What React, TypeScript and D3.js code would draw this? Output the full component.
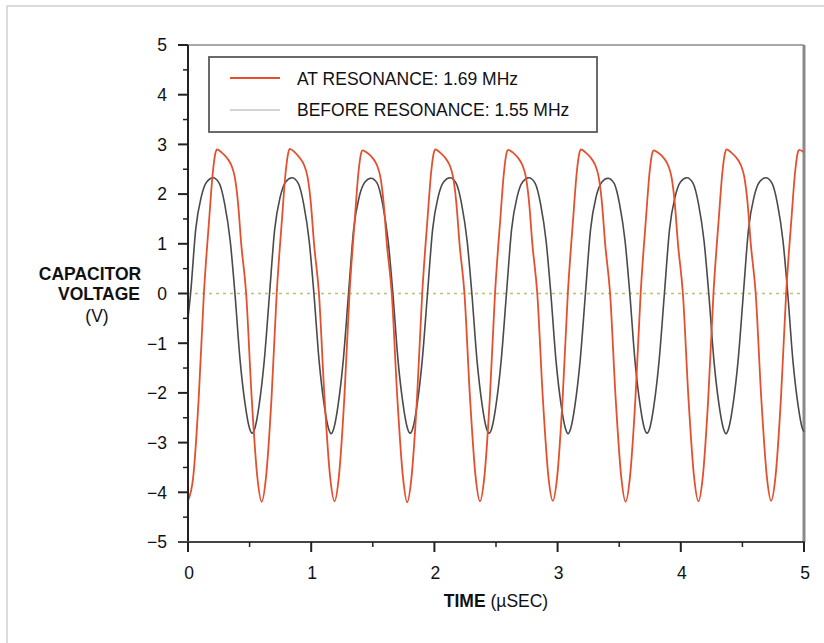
import React from "react";
import * as d3 from "d3";

// ---- data ----
const xTicks = [0, 1, 2, 3, 4, 5];
const xMinorTicks = [0.5, 1.5, 2.5, 3.5, 4.5];
const yTicks = [-5, -4, -3, -2, -1, 0, 1, 2, 3, 4, 5];
const yMinorTicks = [-4.5, -3.5, -2.5, -1.5, -0.5, 0.5, 1.5, 2.5, 3.5, 4.5];

const legendLabels = ["AT RESONANCE: 1.69 MHz", "BEFORE RESONANCE: 1.55 MHz"];

// At resonance (1.69 MHz): [time µs, volts]
const atResonance: [number, number][] = [
  [0, -4.17], [0.042, -3.70], [0.087, -2.10], [0.129, 0], [0.172, 1.50], [0.202, 2.45], [0.222, 2.82], [0.235, 2.90], [0.272, 2.84], [0.312, 2.74], [0.352, 2.58], [0.379, 2.35], [0.405, 1.85], [0.432, 1.00], [0.472, 0], [0.517, -2.10], [0.563, -3.70],
  [0.598, -4.19], [0.633, -3.70], [0.678, -2.10], [0.720, 0], [0.763, 1.50], [0.793, 2.45], [0.813, 2.82], [0.826, 2.91], [0.863, 2.85], [0.903, 2.74], [0.943, 2.58], [0.970, 2.35], [0.996, 1.85], [1.023, 1.00], [1.063, 0], [1.108, -2.10], [1.154, -3.70],
  [1.189, -4.18], [1.224, -3.70], [1.269, -2.10], [1.311, 0], [1.354, 1.50], [1.384, 2.45], [1.404, 2.81], [1.417, 2.88], [1.454, 2.83], [1.494, 2.74], [1.534, 2.58], [1.561, 2.35], [1.587, 1.85], [1.614, 1.00], [1.654, 0], [1.699, -2.10], [1.745, -3.70],
  [1.779, -4.20], [1.814, -3.70], [1.859, -2.10], [1.901, 0], [1.944, 1.50], [1.974, 2.45], [1.994, 2.82], [2.007, 2.90], [2.044, 2.84], [2.084, 2.74], [2.124, 2.58], [2.151, 2.35], [2.177, 1.85], [2.204, 1.00], [2.244, 0], [2.289, -2.10], [2.335, -3.70],
  [2.370, -4.18], [2.405, -3.70], [2.450, -2.10], [2.492, 0], [2.535, 1.50], [2.565, 2.45], [2.585, 2.82], [2.598, 2.89], [2.635, 2.84], [2.675, 2.74], [2.715, 2.58], [2.742, 2.35], [2.768, 1.85], [2.795, 1.00], [2.835, 0], [2.880, -2.10], [2.926, -3.70],
  [2.961, -4.17], [2.996, -3.70], [3.041, -2.10], [3.083, 0], [3.126, 1.50], [3.156, 2.45], [3.176, 2.82], [3.189, 2.90], [3.226, 2.84], [3.266, 2.74], [3.306, 2.58], [3.333, 2.35], [3.359, 1.85], [3.386, 1.00], [3.426, 0], [3.471, -2.10], [3.517, -3.70],
  [3.552, -4.19], [3.587, -3.70], [3.632, -2.10], [3.674, 0], [3.717, 1.50], [3.747, 2.45], [3.767, 2.81], [3.780, 2.88], [3.817, 2.83], [3.857, 2.74], [3.897, 2.58], [3.924, 2.35], [3.950, 1.85], [3.977, 1.00], [4.017, 0], [4.062, -2.10], [4.108, -3.70],
  [4.143, -4.18], [4.178, -3.70], [4.223, -2.10], [4.265, 0], [4.308, 1.50], [4.338, 2.45], [4.358, 2.82], [4.371, 2.90], [4.408, 2.84], [4.448, 2.74], [4.488, 2.58], [4.515, 2.35], [4.541, 1.85], [4.568, 1.00], [4.608, 0], [4.653, -2.10], [4.699, -3.70],
  [4.733, -4.17], [4.768, -3.70], [4.813, -2.10], [4.855, 0], [4.898, 1.50], [4.928, 2.45], [4.948, 2.82], [4.961, 2.89], [5.0, 2.84],
];

// Before resonance (1.55 MHz): [time µs, volts]
const beforeResonance: [number, number][] = [
  [0, -0.5], [0.021, 0], [0.063, 1.30], [0.108, 1.95], [0.153, 2.25], [0.203, 2.33], [0.253, 2.22], [0.298, 1.80], [0.343, 1.05], [0.381, 0], [0.423, -1.35], [0.465, -2.25], [0.498, -2.70], [0.521, -2.81], [0.544, -2.70], [0.577, -2.25], [0.619, -1.35],
  [0.662, 0], [0.704, 1.30], [0.749, 1.95], [0.794, 2.25], [0.844, 2.33], [0.894, 2.22], [0.939, 1.80], [0.984, 1.05], [1.022, 0], [1.064, -1.35], [1.106, -2.25], [1.139, -2.70], [1.162, -2.82], [1.185, -2.70], [1.218, -2.25], [1.260, -1.35],
  [1.303, 0], [1.345, 1.30], [1.390, 1.95], [1.435, 2.24], [1.485, 2.32], [1.535, 2.22], [1.580, 1.80], [1.625, 1.05], [1.663, 0], [1.705, -1.35], [1.747, -2.25], [1.780, -2.70], [1.803, -2.81], [1.826, -2.70], [1.859, -2.25], [1.901, -1.35],
  [1.944, 0], [1.986, 1.30], [2.031, 1.95], [2.076, 2.25], [2.126, 2.33], [2.176, 2.22], [2.221, 1.80], [2.266, 1.05], [2.304, 0], [2.346, -1.35], [2.388, -2.25], [2.421, -2.70], [2.444, -2.81], [2.467, -2.70], [2.500, -2.25], [2.542, -1.35],
  [2.585, 0], [2.627, 1.30], [2.672, 1.95], [2.717, 2.25], [2.767, 2.33], [2.817, 2.22], [2.862, 1.80], [2.907, 1.05], [2.945, 0], [2.987, -1.35], [3.029, -2.25], [3.062, -2.70], [3.085, -2.82], [3.108, -2.70], [3.141, -2.25], [3.183, -1.35],
  [3.226, 0], [3.268, 1.30], [3.313, 1.95], [3.358, 2.24], [3.408, 2.32], [3.458, 2.22], [3.503, 1.80], [3.548, 1.05], [3.586, 0], [3.628, -1.35], [3.670, -2.25], [3.703, -2.70], [3.726, -2.81], [3.749, -2.70], [3.782, -2.25], [3.824, -1.35],
  [3.867, 0], [3.909, 1.30], [3.954, 1.95], [3.999, 2.25], [4.049, 2.33], [4.099, 2.22], [4.144, 1.80], [4.189, 1.05], [4.227, 0], [4.269, -1.35], [4.311, -2.25], [4.344, -2.70], [4.367, -2.82], [4.390, -2.70], [4.423, -2.25], [4.465, -1.35],
  [4.508, 0], [4.550, 1.30], [4.595, 1.95], [4.640, 2.25], [4.690, 2.33], [4.740, 2.22], [4.785, 1.80], [4.830, 1.05], [4.868, 0], [4.910, -1.35], [4.952, -2.25], [4.985, -2.70], [5.0, -2.78],
];

const RED = "#e4502e";
const GRAY = "#4a4a4a";
const FONT = "'Liberation Sans', Arial, Helvetica, sans-serif";

export default function App() {
  const W = 824;
  const H = 643;
  const x = d3.scaleLinear().domain([0, 5]).range([188, 804]);
  const y = d3.scaleLinear().domain([-5, 5]).range([542, 45]);

  const line = d3
    .line<[number, number]>()
    .x((d) => x(d[0]))
    .y((d) => y(d[1]))
    .curve(d3.curveMonotoneX);

  const x0 = x(0);
  const x1 = x(5);
  const yTop = y(5);
  const yBot = y(-5);

  return (
    <svg
      width={W}
      height={H}
      style={{ position: "absolute", left: 0, top: 0, background: "#fff" }}
      fontFamily={FONT}
    >
      {/* outer frame */}
      <rect x={7} y={6} width={W + 50} height={H + 50} fill="none" stroke="#cfcfcf" strokeWidth={1.5} />

      {/* plot frame top/right */}
      <line x1={x0} x2={x1} y1={yTop} y2={yTop} stroke="#8c8c8c" strokeWidth={1.5} />
      <line x1={x1} x2={x1} y1={yTop} y2={yBot} stroke="#8a8a8a" strokeWidth={3} />

      {/* zero reference line */}
      <line x1={x0} x2={x1} y1={y(0)} y2={y(0)} stroke="#b7c07c" strokeWidth={1.5} strokeDasharray="3,4" />

      {/* traces */}
      <path d={line(beforeResonance) || ""} fill="none" stroke={GRAY} strokeWidth={1.6} strokeLinejoin="round" />
      <path d={line(atResonance) || ""} fill="none" stroke={RED} strokeWidth={1.8} strokeLinejoin="round" />

      {/* y axis */}
      <line x1={x0} x2={x0} y1={yTop} y2={yBot + 10} stroke="#222" strokeWidth={2} />
      {yTicks.map((t) => (
        <g key={"yt" + t}>
          <line x1={x0 - 10} x2={x0} y1={y(t)} y2={y(t)} stroke="#222" strokeWidth={2} />
          <text x={167} y={y(t)} dy="0.36em" textAnchor="end" fontSize={17.5} fill="#111">
            {t < 0 ? "\u2212" + Math.abs(t) : String(t)}
          </text>
        </g>
      ))}
      {yMinorTicks.map((t) => (
        <line key={"ym" + t} x1={x0 - 5} x2={x0} y1={y(t)} y2={y(t)} stroke="#222" strokeWidth={1.5} />
      ))}

      {/* x axis */}
      <line x1={x0 - 10} x2={x1 + 1} y1={yBot} y2={yBot} stroke="#444" strokeWidth={2} />
      {xTicks.map((t) => (
        <g key={"xt" + t}>
          <line x1={x(t)} x2={x(t)} y1={yBot} y2={yBot + 10} stroke="#222" strokeWidth={2} />
          <text x={x(t) + 1} y={579} textAnchor="middle" fontSize={17.5} fill="#111">
            {t}
          </text>
        </g>
      ))}
      {xMinorTicks.map((t) => (
        <line key={"xm" + t} x1={x(t)} x2={x(t)} y1={yBot} y2={yBot + 5} stroke="#222" strokeWidth={1.5} />
      ))}

      {/* axis titles */}
      <text x={(x0 + x1) / 2} y={607} textAnchor="middle" fontSize={17.5} fill="#111">
        <tspan fontWeight="bold">TIME</tspan>
        <tspan> (µSEC)</tspan>
      </text>
      <text x={90} y={280} textAnchor="middle" fontSize={17.5} fontWeight="bold" fill="#111">
        CAPACITOR
      </text>
      <text x={99} y={300} textAnchor="middle" fontSize={17.5} fontWeight="bold" fill="#111">
        VOLTAGE
      </text>
      <text x={97} y={322} textAnchor="middle" fontSize={17.5} fill="#111">
        (V)
      </text>

      {/* legend */}
      <rect x={209} y={57} width={388} height={75} fill="#fff" stroke="#5a5a5a" strokeWidth={1.8} />
      <line x1={230} x2={280} y1={78} y2={78} stroke={RED} strokeWidth={2} />
      <text x={297} y={85} fontSize={17.5} fill="#111">
        {legendLabels[0]}
      </text>
      <line x1={230} x2={280} y1={110} y2={110} stroke="#c4c4c4" strokeWidth={1.5} />
      <text x={297} y={116} fontSize={17.5} fill="#111">
        {legendLabels[1]}
      </text>
    </svg>
  );
}
